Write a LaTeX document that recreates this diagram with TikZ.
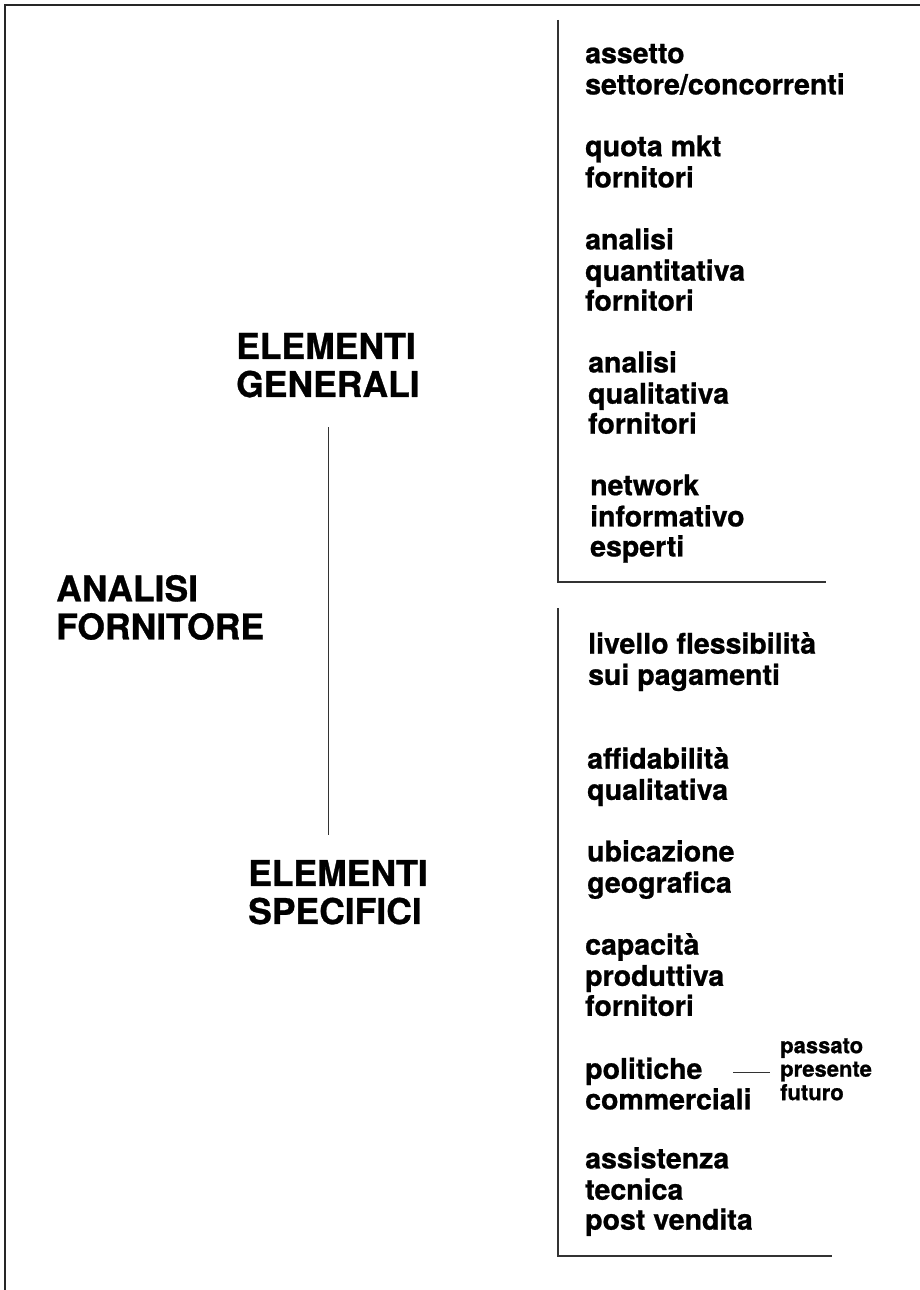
\documentclass[tikz,border=0pt]{standalone}
\usepackage{fontspec}
\setmainfont{TeX Gyre Heros}
\newfontfamily\headfont{TeX Gyre Heros}[FakeBold=0.8]
\newfontfamily\itemfont{TeX Gyre Heros}[FakeBold=0.8]
\begin{document}
\begin{tikzpicture}[x=1pt,y=-1pt,
  frameline/.style={line width=1.8pt,black!85},
  bracketline/.style={line width=1.4pt,black!80},
  linkline/.style={line width=1pt,black!80},
  headtext/.style={anchor=north west,inner sep=0pt,align=left,
    font={\headfont\bfseries\fontsize{35.5}{36}\selectfont}},
  itemtext/.style={anchor=north west,inner sep=0pt,align=left,
    font={\itemfont\bfseries\fontsize{28.5}{30}\selectfont}},
  smalltext/.style={anchor=north west,inner sep=0pt,align=left,
    font={\itemfont\bfseries\fontsize{22}{23.5}\selectfont}}]
\useasboundingbox (0,0) rectangle (920,1290);
% outer frame (top and left edges)
\draw[frameline] (920,5) -- (5,5) -- (5,1290);

% headings
\node[headtext] (gen) at (236,332.8) {\strut ELEMENTI\\GENERALI};
\node[headtext] (forn) at (56,574.8) {\strut ANALISI\\FORNITORE};
\node[headtext] (spec) at (248,859.8) {\strut ELEMENTI\\SPECIFICI};

% line joining the two groups
\coordinate (vtop) at (328,427);
\coordinate (vbot) at (328,835);
\draw[linkline] (vtop) -- (vbot);

% brackets
\coordinate (g1) at (558,20);
\coordinate (g2) at (558,582);
\coordinate (g3) at (826,582);
\draw[bracketline] (g1) -- (g2) -- (g3);
\coordinate (s1) at (558,608);
\coordinate (s2) at (558,1256);
\coordinate (s3) at (832,1256);
\draw[bracketline] (s1) -- (s2) -- (s3);

% general elements
\node[itemtext] (i1) at (585,42) {\strut assetto\\settore/concorrenti};
\node[itemtext] (i2) at (585,135) {\strut quota mkt\\fornitori};
\node[itemtext] (i3) at (585,228) {\strut analisi\\quantitativa\\fornitori};
\node[itemtext] (i4) at (588,351) {\strut analisi\\qualitativa\\fornitori};
\node[itemtext] (i5) at (590,474) {\strut network\\informativo\\esperti};

% specific elements
\node[itemtext] (j1) at (588,632) {\strut livello flessibilità\\sui pagamenti};
\node[itemtext] (j2) at (587,747) {\strut affidabilità\\qualitativa};
\node[itemtext] (j3) at (587,840) {\strut ubicazione\\geografica};
\node[itemtext] (j4) at (585,933) {\strut capacità\\produttiva\\fornitori};
\node[itemtext,font={\itemfont\bfseries\fontsize{28.5}{28}\selectfont}] (j5) at (585,1057.4) {\strut politiche\\commerciali};
\node[itemtext] (j6) at (585,1147) {\strut assistenza\\tecnica\\post vendita};

% time horizon of commercial policies
\node[smalltext] (t1) at (780,1036.5) {\strut passato\\presente\\futuro};
\coordinate (la) at (733,1072);
\coordinate (lb) at (770,1072);
\draw[linkline] (la) -- (lb);
\end{tikzpicture}
\end{document}
